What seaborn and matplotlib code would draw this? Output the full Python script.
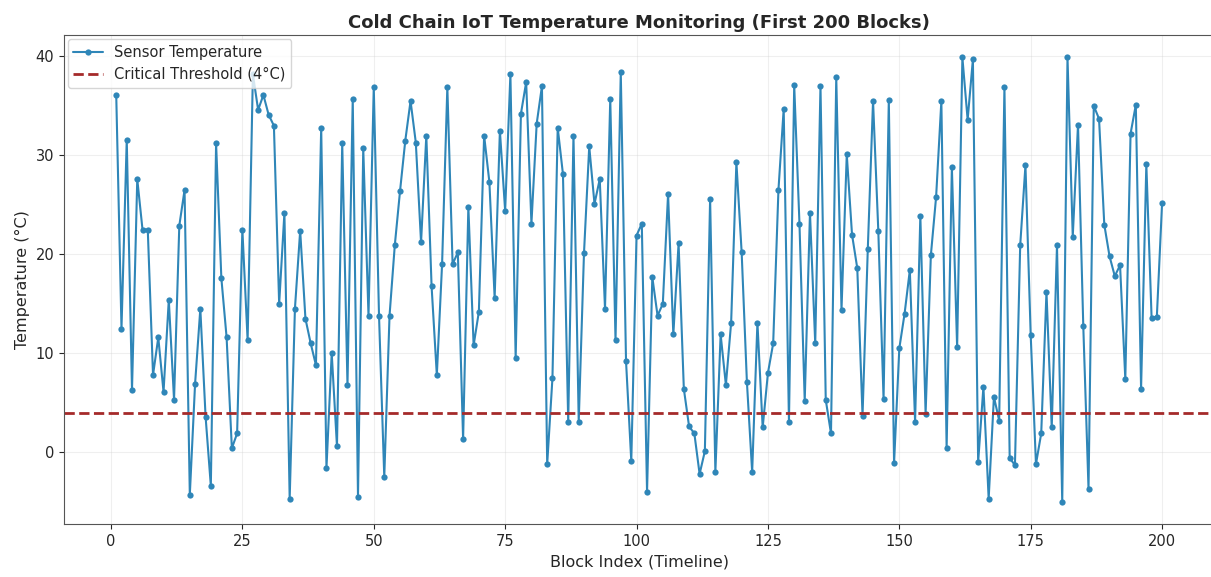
# Cold chain IoT temperature monitoring - first 200 blocks

import numpy as np
import pandas as pd
import seaborn as sns
import matplotlib.pyplot as plt

# Block indices and sensor readings (degrees C)
blocks = list(range(1, 201))
temperatures = [
    36.1, 12.5, 31.6, 6.3, 27.6, 22.5, 22.5, 7.8, 11.6, 6.1,
    15.4, 5.3, 22.9, 26.5, -4.3, 6.9, 14.5, 3.6, -3.4, 31.2,
    17.6, 11.6, 0.4, 1.9, 22.5, 11.3, 38.2, 34.6, 36.1, 34.1,
    33.0, 15.0, 24.2, -4.7, 14.5, 22.4, 13.5, 11.0, 8.8, 32.8,
    -1.6, 10.0, 0.6, 31.2, 6.8, 35.7, -4.5, 30.7, 13.8, 36.9,
    13.8, -2.5, 13.8, 20.9, 26.4, 31.5, 35.5, 31.3, 21.2, 32.0,
    16.8, 7.8, 19.0, 36.9, 19.0, 20.2, 1.3, 24.8, 10.8, 14.2,
    32.0, 27.3, 15.6, 32.5, 24.4, 38.2, 9.5, 34.2, 37.4, 23.1,
    33.2, 37.0, -1.2, 7.5, 32.8, 28.1, 3.1, 32.0, 3.1, 20.1,
    30.9, 25.1, 27.6, 14.5, 35.7, 11.3, 38.4, 9.2, -0.9, 21.9,
    23.1, -4.0, 17.7, 13.8, 15.0, 26.1, 11.9, 21.1, 6.4, 2.6,
    1.9, -2.2, 0.1, 25.6, -2.0, 11.9, 6.8, 13.1, 29.3, 20.2,
    7.1, -2.0, 13.1, 2.5, 8.0, 11.0, 26.5, 34.7, 3.1, 37.1,
    23.1, 5.2, 24.2, 11.0, 37.0, 5.3, 1.9, 37.9, 14.4, 30.1,
    22.0, 18.6, 3.7, 20.5, 35.5, 22.4, 5.4, 35.6, -1.1, 10.5,
    14.0, 18.4, 3.1, 23.9, 3.9, 19.9, 25.8, 35.5, 0.4, 28.8,
    10.6, 39.9, 33.6, 39.7, -1.0, 6.6, -4.7, 5.6, 3.2, 36.9,
    -0.6, -1.3, 20.9, 29.0, 11.8, -1.2, 1.9, 16.2, 2.5, 20.9,
    -5.0, 39.9, 21.8, 33.1, 12.8, -3.7, 35.0, 33.7, 23.0, 19.8,
    17.8, 18.9, 7.4, 32.2, 35.1, 6.4, 29.1, 13.6, 13.7, 25.2,
]
threshold = 4

df = pd.DataFrame({"Block": blocks, "Temperature": temperatures})

sns.set_style("ticks")
plt.rcParams['font.family'] = ['DejaVu Sans']

fig = plt.figure(figsize=(12.11, 5.77), dpi=100)
ax = fig.add_axes([0.0528, 0.092, 0.95, 0.847])

sns.lineplot(data=df, x="Block", y="Temperature", ax=ax,
             marker='o', markersize=4.5, markeredgewidth=0,
             color='#2f86b8', linewidth=1.5, label='Sensor Temperature')
ax.axhline(threshold, color='#a52a2a', linestyle='--', linewidth=2,
           label='Critical Threshold (4°C)')

ax.set_title("Cold Chain IoT Temperature Monitoring (First 200 Blocks)",
             fontsize=13, fontweight='bold', pad=5)
ax.set_xlabel("Block Index (Timeline)", fontsize=11.5)
ax.set_ylabel("Temperature (°C)", fontsize=11.5)
ax.tick_params(labelsize=10.5)
ax.set_xticks([0, 25, 50, 75, 100, 125, 150, 175, 200])
ax.grid(True, alpha=0.3)
for s in ax.spines.values():
    s.set_color('#555555')
ax.legend(loc='upper left', fontsize=10.5, framealpha=0.8, borderaxespad=0.25)

fig.savefig("out.png", dpi=100)
